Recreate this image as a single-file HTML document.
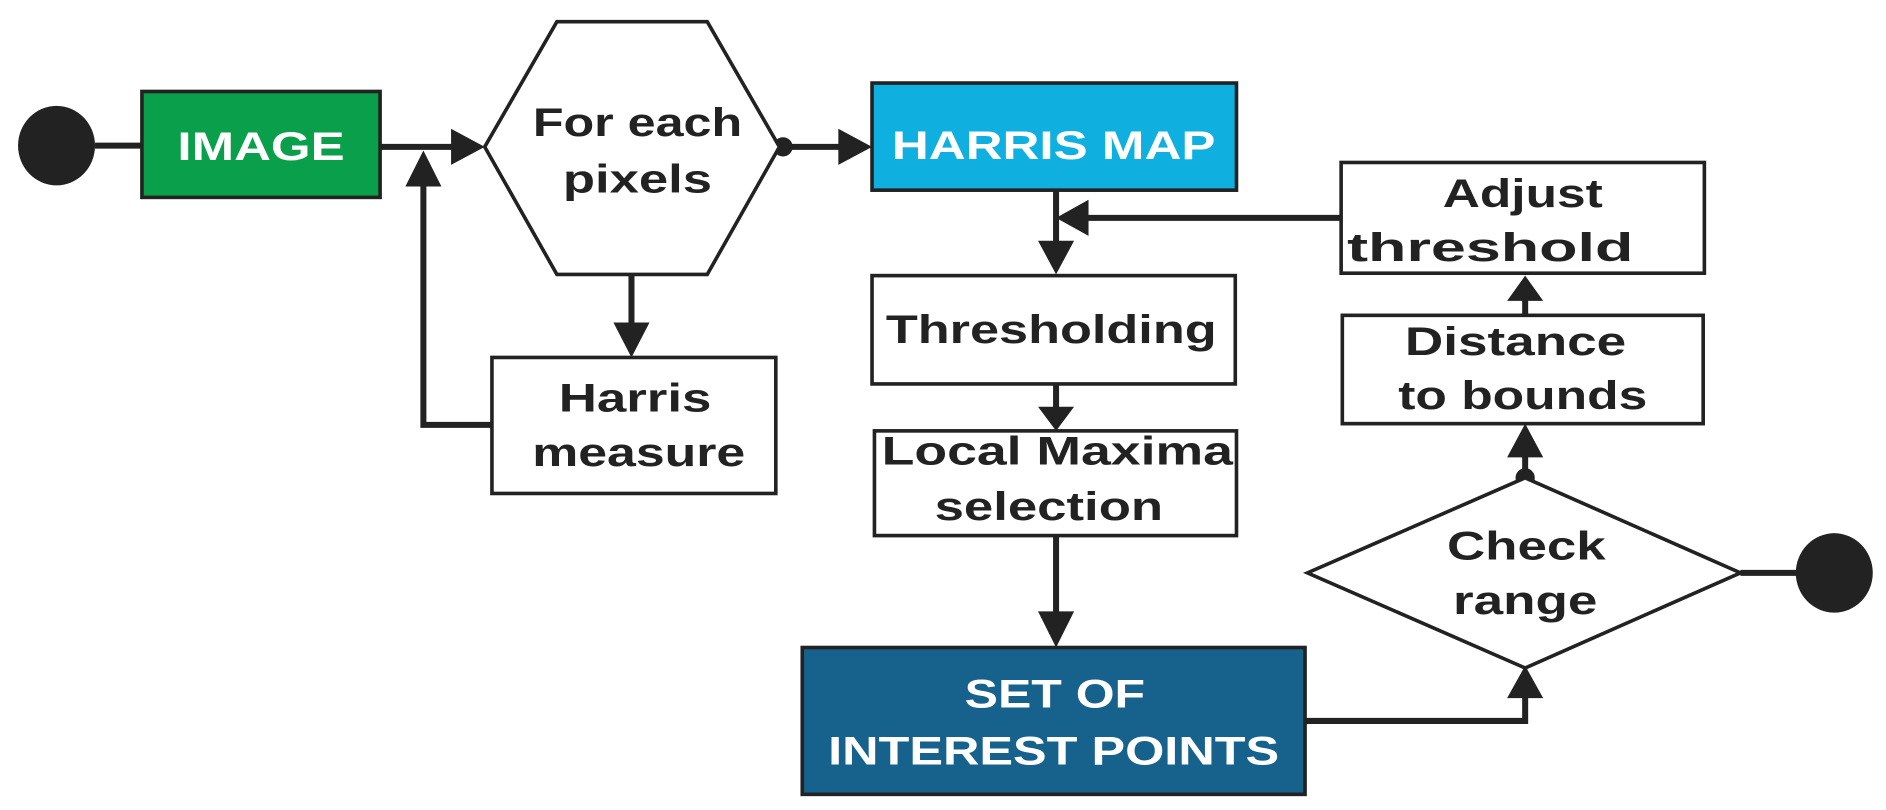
<!DOCTYPE html>
<html><head><meta charset="utf-8"><style>
html,body{margin:0;padding:0;background:#fff;}
svg{display:block;}
text{font-family:"Liberation Sans",Arial,sans-serif;font-weight:bold;font-size:33px;text-anchor:middle;}
</style></head><body>
<svg width="1886" height="810" viewBox="0 0 1568 673" preserveAspectRatio="none" xmlns="http://www.w3.org/2000/svg">
<g stroke="#222" stroke-width="3" fill="none">
<!-- lines -->
<line x1="79" y1="121" x2="118" y2="121" stroke-width="5"/>
<line x1="316" y1="122" x2="380" y2="122" stroke-width="5"/>
<polyline points="409,353 352,353 352,150" stroke-width="5"/>
<line x1="651" y1="122" x2="700" y2="122" stroke-width="5"/>
<line x1="878" y1="158" x2="878" y2="205" stroke-width="5"/>
<line x1="1115" y1="181" x2="900" y2="181" stroke-width="5"/>
<line x1="525" y1="228" x2="525" y2="272" stroke-width="5"/>
<line x1="878" y1="319" x2="878" y2="340" stroke-width="5"/>
<line x1="878" y1="445" x2="878" y2="512" stroke-width="5"/>
<polyline points="1085,599 1268,599 1268,578" stroke-width="5"/>
<line x1="1268" y1="397" x2="1268" y2="378" stroke-width="5"/>
<line x1="1268" y1="262" x2="1268" y2="248" stroke-width="5"/>
<line x1="1447" y1="476" x2="1495" y2="476" stroke-width="5"/>
</g>
<g fill="#222">
<polygon points="375,107 403,122 375,137"/>
<polygon points="337,155 352,125 367,155"/>
<polygon points="697,107 725,122 697,137"/>
<polygon points="863,200 878,228 893,200"/>
<polygon points="905,166 878,181 905,196"/>
<polygon points="510,268 525,297 540,268"/>
<polygon points="863,338 878,358 893,338"/>
<polygon points="863,508 878,538 893,508"/>
<polygon points="1253,580 1268,553 1283,580"/>
<polygon points="1253,380 1268,352 1283,380"/>
<polygon points="1253,250 1268,229 1283,250"/>
<circle cx="651" cy="122" r="8"/>
<circle cx="1268" cy="397" r="8"/>
<ellipse cx="47" cy="121" rx="32" ry="33"/>
<ellipse cx="1525" cy="476" rx="32" ry="33"/>
</g>
<g stroke="#222" stroke-width="3">
<rect x="118" y="76" width="198" height="88" fill="#0a9f4a"/>
<polygon points="403,122 463,18 588,18 648,122 588,228 463,228" fill="#fff"/>
<rect x="725" y="69" width="303" height="89" fill="#0fafdf"/>
<rect x="1115" y="135" width="302" height="92" fill="#fff"/>
<rect x="725" y="229" width="302" height="90" fill="#fff"/>
<rect x="1116" y="262" width="300" height="90" fill="#fff"/>
<rect x="409" y="297" width="236" height="113" fill="#fff"/>
<rect x="727" y="358" width="301" height="87" fill="#fff"/>
<polygon points="1087,476 1268,397 1447,476 1268,555" fill="#fff"/>
<rect x="667" y="538" width="418" height="122" fill="#16628c"/>
</g>
<g fill="#fff">
<text x="217" y="133" textLength="139" lengthAdjust="spacingAndGlyphs">IMAGE</text>
<text x="876" y="132" textLength="269" lengthAdjust="spacingAndGlyphs">HARRIS MAP</text>
<text x="877" y="588" textLength="150" lengthAdjust="spacingAndGlyphs">SET OF</text>
<text x="876" y="635" textLength="375" lengthAdjust="spacingAndGlyphs">INTEREST POINTS</text>
</g>
<g fill="#222">
<text x="530" y="113" textLength="174" lengthAdjust="spacingAndGlyphs">For each</text>
<text x="530" y="160" textLength="124" lengthAdjust="spacingAndGlyphs">pixels</text>
<text x="1266" y="172" textLength="133" lengthAdjust="spacingAndGlyphs">Adjust</text>
<text x="1239" y="217" textLength="238" lengthAdjust="spacingAndGlyphs">threshold</text>
<text x="874" y="285" textLength="275" lengthAdjust="spacingAndGlyphs">Thresholding</text>
<text x="1260" y="295" textLength="184" lengthAdjust="spacingAndGlyphs">Distance</text>
<text x="1266" y="340" textLength="207" lengthAdjust="spacingAndGlyphs">to bounds</text>
<text x="528" y="342" textLength="127" lengthAdjust="spacingAndGlyphs">Harris</text>
<text x="531" y="387" textLength="177" lengthAdjust="spacingAndGlyphs">measure</text>
<text x="879" y="386" textLength="292" lengthAdjust="spacingAndGlyphs">Local Maxima</text>
<text x="872" y="432" textLength="190" lengthAdjust="spacingAndGlyphs">selection</text>
<text x="1269" y="465" textLength="132" lengthAdjust="spacingAndGlyphs">Check</text>
<text x="1268" y="510" textLength="120" lengthAdjust="spacingAndGlyphs">range</text>
</g>
</svg>
</body></html>
